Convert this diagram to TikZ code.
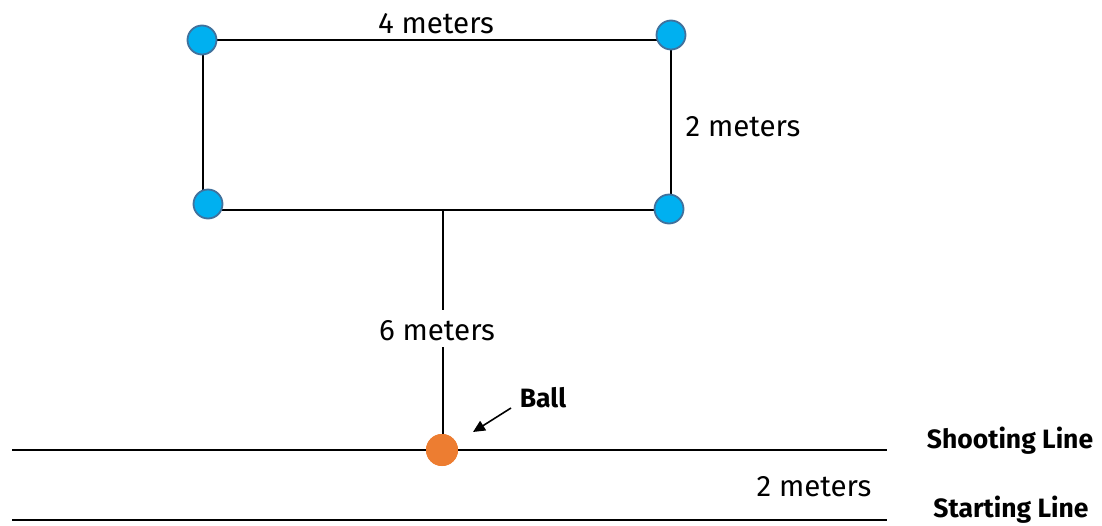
\documentclass[tikz,border=0pt]{standalone}
\usepackage{fontspec}
\setmainfont{Fira Sans}
\usetikzlibrary{arrows.meta}
\definecolor{cone}{HTML}{00B0F0}
\definecolor{coneedge}{HTML}{41719C}
\definecolor{ballc}{HTML}{ED7D31}
\begin{document}
\begin{tikzpicture}[x=1pt,y=-1pt,
  line/.style={draw=black,line width=2pt},
  conept/.style={circle,fill=cone,draw=coneedge,line width=1.8pt,minimum size=29pt,inner sep=0pt},
  ballpt/.style={circle,fill=ballc,minimum size=32pt,inner sep=0pt},
  lbl/.style={font=\fontsize{29.5}{32}\selectfont,inner sep=0pt},
  blbl/.style={font=\fontsize{26.5}{30}\selectfont\bfseries,inner sep=0pt}]
\useasboundingbox (0,0) rectangle (1102,525);
% guide lines
\coordinate (sl1) at (12,450);
\coordinate (sl2) at (887,450);
\coordinate (st1) at (12,520);
\coordinate (st2) at (887,520);
\draw[line] (sl1) -- (sl2);
\draw[line] (st1) -- (st2);
% rectangle corners
\coordinate (tl) at (202,40);
\coordinate (tr) at (671,40);
\coordinate (trt) at (671,35);
\coordinate (tlt) at (203,40);
\coordinate (tlb) at (203,200);
\coordinate (bl) at (208,210);
\coordinate (br) at (669,210);
\coordinate (brt) at (671,209);
\coordinate (mid) at (443,210);
\coordinate (l1) at (443,310);
\coordinate (l2) at (443,347);
\draw[line] (tl) -- (tr);
\draw[line] (tlt) -- (tlb);
\draw[line] (trt) -- (brt);
\draw[line] (bl) -- (br);
% center line with label
\node[lbl] (six) at (437,331) {6 meters};
\node[ballpt] (ball) at (442,450) {};
\draw[line] (mid) -- (l1);
\draw[line] (l2) -- (l2 |- ball.center);
% cones
\node[conept] (c1) at (202,40) {};
\node[conept] (c2) at (671,35) {};
\node[conept] (c3) at (208,204) {};
\node[conept] (c4) at (669,209) {};
\node[ballpt] at (ball) {};
% labels
\node[lbl] (four) at (436,24) {4 meters};
\node[lbl] (two) at (743,127) {2 meters};
\node[lbl] (twob) at (814,487) {2 meters};
\node[blbl] (balllbl) at (543,398) {Ball};
\node[blbl] (shoot) at (1010,441) {Shooting Line};
\node[blbl,anchor=base] (start) at (1011,517) {Starting Line};
\coordinate (arrs) at (511,408);
\coordinate (arre) at (473,432);
\draw[line width=1.6pt,-{Triangle[length=12pt,width=11pt]}] (arrs) -- (arre);
\end{tikzpicture}
\end{document}
